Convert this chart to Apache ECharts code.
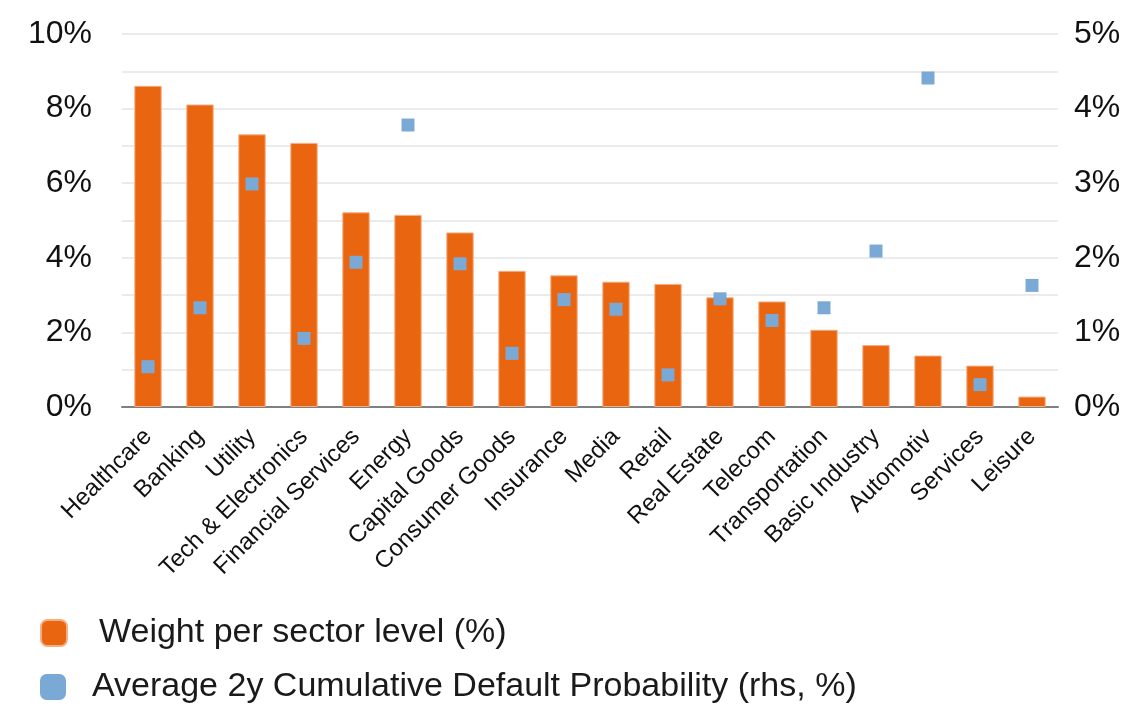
<!DOCTYPE html>
<html>
<head>
<meta charset="utf-8">
<script src="https://cdn.jsdelivr.net/npm/echarts@6/dist/echarts.min.js"></script>
<style>
  html, body { margin: 0; padding: 0; background: #fff; }
  #chart { width: 1142px; height: 707px; }
</style>
</head>
<body>
<div id="chart"></div>
<script>
// Sectors, ordered by portfolio weight
const sectors = [
  'Healthcare', 'Banking', 'Utility', 'Tech & Electronics', 'Financial Services',
  'Energy', 'Capital Goods', 'Consumer Goods', 'Insurance', 'Media', 'Retail',
  'Real Estate', 'Telecom', 'Transportation', 'Basic Industry', 'Automotiv',
  'Services', 'Leisure'
];

// Weight per sector level (%), left axis
const weightPct = [
  8.61, 8.11, 7.31, 7.08, 5.22, 5.15, 4.68, 3.65, 3.53, 3.36, 3.30,
  2.94, 2.83, 2.07, 1.66, 1.38, 1.11, 0.28
];

// Average 2y cumulative default probability (%), right axis
const defaultProbPct = [
  0.54, 1.33, 2.99, 0.92, 1.94, 3.78, 1.92, 0.72, 1.44, 1.31, 0.43,
  1.45, 1.16, 1.33, 2.09, 4.41, 0.30, 1.63
];

const seriesNames = [
  'Weight per sector level (%)',
  'Average 2y Cumulative Default Probability (rhs, %)'
];

const FONT = '"Liberation Sans", Arial, sans-serif';
const ORANGE = '#EA6510';
const BLUE = '#7BA9D6';

// one legend block per series, stacked under the plot
function legendRow(name, color, top, textGap) {
  return {
    orient: 'vertical',
    left: 40,
    top: top,
    padding: 0,
    itemWidth: 26,
    itemHeight: 26,
    textStyle: {
      fontFamily: FONT,
      fontSize: 34,
      color: '#1a1a1a',
      padding: [4, 0, 0, textGap]
    },
    data: [{ name: name, icon: 'roundRect', itemStyle: { color: color } }]
  };
}

const chart = echarts.init(document.getElementById('chart'), null, { renderer: 'canvas' });

chart.setOption({
  animation: false,
  backgroundColor: '#ffffff',
  grid: { left: 122, right: 84, top: 34, bottom: 300, containLabel: false },
  legend: [
    legendRow(seriesNames[0], ORANGE, 616, 27),
    legendRow(seriesNames[1], BLUE, 670, 21)
  ],
  xAxis: {
    type: 'category',
    data: sectors,
    axisTick: { show: false },
    axisLine: { lineStyle: { color: '#808080', width: 2 } },
    axisLabel: {
      rotate: 45,
      interval: 0,
      margin: 26,
      fontFamily: FONT,
      fontSize: 24,
      color: '#111'
    }
  },
  yAxis: [
    {
      type: 'value',
      min: 0,
      max: 10,
      interval: 1,
      axisLine: { show: false },
      axisTick: { show: false },
      splitLine: { lineStyle: { color: '#ebebeb', width: 2 } },
      axisLabel: {
        margin: 30,
        fontFamily: FONT,
        fontSize: 32,
        color: '#111',
        formatter: v => (Math.round(v) % 2 === 0 ? Math.round(v) + '%' : '')
      }
    },
    {
      type: 'value',
      min: 0,
      max: 5,
      interval: 0.5,
      position: 'right',
      axisLine: { show: false },
      axisTick: { show: false },
      splitLine: { show: false },
      axisLabel: {
        margin: 16,
        fontFamily: FONT,
        fontSize: 32,
        color: '#111',
        formatter: v => (Math.abs(v - Math.round(v)) < 1e-9 ? Math.round(v) + '%' : '')
      }
    }
  ],
  series: [
    {
      name: seriesNames[0],
      type: 'bar',
      yAxisIndex: 0,
      data: weightPct,
      barWidth: '52.6%',
      itemStyle: { color: ORANGE, borderColor: '#F4AE80', borderWidth: 1 }
    },
    {
      name: seriesNames[1],
      type: 'scatter',
      yAxisIndex: 1,
      data: defaultProbPct,
      symbol: 'rect',
      symbolSize: 13,
      itemStyle: { color: BLUE, opacity: 1 },
      z: 5
    }
  ]
});
</script>
</body>
</html>
